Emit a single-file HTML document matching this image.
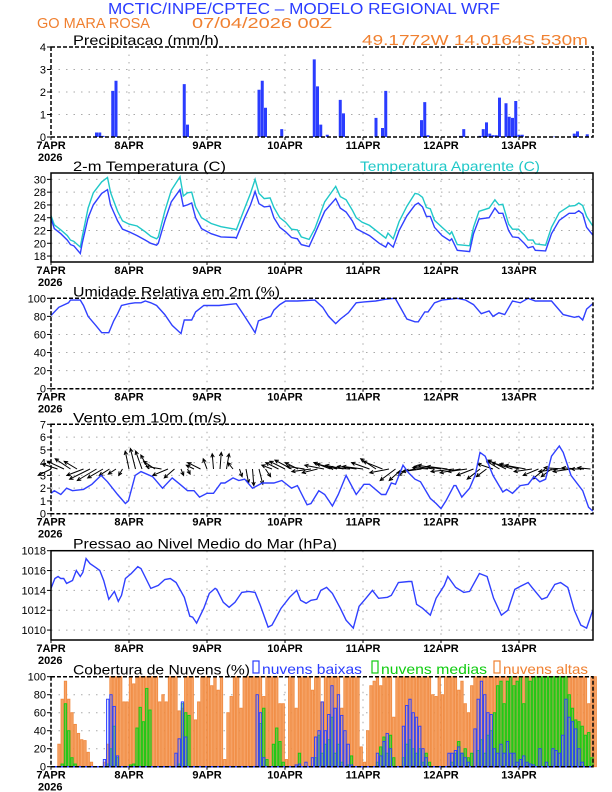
<!DOCTYPE html>
<html><head><meta charset="utf-8"><style>
html,body{margin:0;padding:0;background:#fff;}
svg{display:block;font-family:"Liberation Sans",sans-serif;}
</style></head><body>
<svg id="chart" width="612" height="792" viewBox="0 0 612 792" xmlns="http://www.w3.org/2000/svg">
<text x="108" y="14" font-size="16" fill="#2a3cff" textLength="392" lengthAdjust="spacingAndGlyphs">MCTIC/INPE/CPTEC – MODELO REGIONAL WRF</text>
<text x="37" y="28" font-size="15" fill="#f08030" textLength="113" lengthAdjust="spacingAndGlyphs">GO MARA ROSA</text>
<text x="192" y="28" font-size="15" fill="#f08030" textLength="140" lengthAdjust="spacingAndGlyphs">07/04/2026 00Z</text>
<text x="362" y="45" font-size="15" fill="#f08030" textLength="226" lengthAdjust="spacingAndGlyphs">49.1772W 14.0164S 530m</text>
<g id="g"></g>
</svg>
<script>
// ---- data (hourly, hour 0 = 7APR 00Z) ----
var dayLabels = ["7APR","8APR","9APR","10APR","11APR","12APR","13APR"];
var precipHours = [14,15,16,19,20,41,42,64,65,66,71,81,82,83,85,89,90,100,102,103,114,115,116,126,127,132,133,134,135,136,137,138,140,141,142,143,144,145,150,155,161,162,165];
var precipVals  = [0.2,0.2,0.05,2.05,2.5,2.35,0.55,2.1,2.5,1.3,0.35,3.45,2.25,0.55,0.1,1.65,1.05,0.85,0.4,2.05,0.75,1.55,0.08,0.05,0.35,0.05,0.35,0.65,0.15,0.08,0.08,1.75,1.5,0.9,0.85,1.6,0.1,0.1,0.02,0.02,0.15,0.25,0.12];

var tempHours = [0,1,3,5,6,7,9,9.6,11.4,13,15.6,17.4,18.3,19,20.5,22,24,26.5,29,30.7,32.5,33,35,37,39.7,40.7,42,43.3,44.5,46.3,49.3,52.3,56.6,57,59.6,61.4,62.8,64,65.6,67.4,68.6,70.4,72.2,74,75.8,77,79.4,81.2,84.2,87.6,89,90.8,92.7,93.9,95.7,98,101,103,103.7,105.3,107.1,109.5,112,113,114.3,115.5,116.7,118,120.3,122.7,123.3,125,128.8,130,131.7,134.8,136.6,137.8,139,140.8,142,143.8,145.6,146.8,148.3,149,152.2,154,156.4,159.4,161.2,162.4,163.6,164.8,166.7];
var tempVals  = [23.9,22.3,21.5,20.5,19.8,19.6,18.4,20.0,24.0,26.0,27.8,28.4,26.0,25.2,23.5,22.2,21.8,21.2,20.5,20.0,19.7,20.0,23.5,26.5,28.4,25.8,26.0,26.3,24.0,22.3,21.5,21.0,20.9,20.8,24.0,26.0,28.1,26.2,25.7,25.8,24.0,22.5,21.8,20.9,20.7,19.8,19.5,21.5,25.0,27.0,25.5,24.9,23.5,22.3,21.8,21.2,20.0,19.4,20.1,19.4,22.0,24.3,26.0,26.3,25.7,24.2,24.2,22.5,21.2,20.4,20.7,18.9,18.7,21.5,23.8,24.0,25.5,24.7,24.7,22.0,21.0,20.9,20.0,19.3,19.5,18.9,18.8,21.5,23.6,24.7,24.7,25.1,24.6,22.5,21.3];
var apparentVals = [24.3,22.9,22.1,21.2,20.5,20.3,19.4,21.0,25.5,27.9,29.6,30.3,28.0,27.0,25.0,23.5,23.0,22.7,21.8,21.1,20.7,21.0,25.0,28.3,30.4,27.4,27.9,28.0,25.7,24.0,23.1,22.6,22.2,22.1,25.5,27.8,30.0,27.8,27.0,27.1,25.6,24.0,23.3,22.2,22.1,21.0,20.6,22.3,26.5,28.9,27.3,26.8,25.2,24.0,23.3,22.8,21.6,20.8,21.6,20.7,23.4,25.8,27.8,27.7,27.2,25.6,25.4,23.6,22.5,21.4,21.8,19.8,19.6,22.5,25.0,25.5,26.8,26.0,26.1,23.0,22.2,22.2,21.3,20.5,20.5,19.9,19.7,22.5,24.8,25.8,25.9,26.3,25.9,24.2,22.7];

var rhHours = [0,2.4,5.4,6,9,10,11.4,13.8,15.6,17.8,19.3,20.5,21.7,24,25.8,27.7,29,30.7,32.5,35,37.3,40,41,43.3,44.5,47,51.7,57,59.6,61.4,62.8,63.8,66,67.6,68.6,70.4,72.2,75.8,81.2,83.6,85.4,87.6,89,91.5,93.9,96.3,99.9,103,105.9,107,109.5,112,113,115,116,118,120.3,125,127.6,130,132.4,134.8,136,137.8,139.6,142,144.4,146.8,149,154,157.6,161,162.4,163.6,164.8,166.7];
var rhVals  = [81,90,95,98,98,92,80,70,62,62,75,83,92,94,95,95,97,95,92,82,70,61,76,76,85,92,92,94,80,70,62,75,78,80,87,93,97,97,98,90,80,72,77,84,95,96,97,99,100,93,77,74,74,85,85,95,98,100,98,93,83,86,80,84,82,97,95,100,97,97,82,79,80,76,88,94];

var windHours = [0,1,3,4.8,6.6,10,12.6,15.4,17.4,20.5,22.9,23.8,25.9,27.7,31.3,34.3,37.3,39.7,42,44,45.7,48,50,52.3,53.5,56,57.8,59.6,62,65,68.6,71,74,75.8,78.8,80,82.4,84.2,86.6,88.4,90.8,93.9,96.3,98,101.7,103,104.7,106,108.3,110,112,113.7,116.7,118.5,120,121.5,124,124.6,126.4,128.8,130.5,132,133.6,136,139,140.2,142,144.4,146.8,148.6,150.4,152.2,154,156.4,157.6,160,163.6,165.4,166.7];
var windVals  = [1.6,1.8,1.5,2.0,1.8,1.9,2.3,3.0,2.5,1.5,0.8,1.0,3.0,3.3,2.9,2.0,2.8,2.3,1.8,1.8,1.3,1.6,1.6,2.4,2.4,2.8,2.6,2.7,2.0,2.4,2.4,2.6,2.0,2.2,0.7,0.8,1.8,1.5,0.6,1.5,3.0,1.5,2.3,2.3,1.5,1.5,2.4,2.3,3.8,3.2,2.7,2.5,1.2,0.8,0.4,1.0,2.2,2.2,1.3,2.0,3.0,4.8,4.5,3.0,1.7,1.9,1.6,2.2,2.3,2.9,2.5,2.7,4.5,5.3,4.8,3.0,1.8,0.5,0.2];
var arrowHours = [0,2,4,6,8,10,12,14,16,18,20,22,24,26,28,30,32,34,36,38,40,42,44,46,48,50,52,54,56,58,60,62,64,66,68,70,72,74,76,78,80,82,84,86,88,90,92,94,96,98,100,102,104,106,108,110,112,114,116,118,120,122,124,126,128,130,132,134,136,138,140,142,144,146,148,150,152,154,156,158,160,162,164,166];
var arrowU = [-1,-1.2,-1.3,-1.2,-1.0,-1.3, -1.6,-1.5,-1.2,-0.8,-0.6,-0.3, -0.3,-0.4,-0.5,-0.6,-0.9,-1.2, -1.2,-0.8,0.2,0.2,-0.6,-1.0, -0.3,-0.1,0.1,0.2,-0.4,0.2, 0.2,0.1,0.3,0.4,-0.8,-1.0, -1.2,-1.3,-1.0,-1.4,-1.5,-1.2, -1.5,-1.3,-1.6,-1.4,-1.6,-1.5, -1.6,-1.4,-1.2,-1.5,-1.5,-1.2, -1.0,-0.8,-1.4,-1.5,-1.2,-1.6, -1.8,-1.6,-1.8,-1.6,-1.5,-1.3, -1.0,-0.8,-1.2,-1.0,-1.4,-1.6, -1.5,-1.6,-1.4,-1.2,-1.0,-0.8, -1.5,-1.6,-1.4,-1.2,-1.0,-1.0];
var arrowV = [-0.5,0.4,0.6,0.8,0.6,-0.5, -0.8,-0.9,-0.7,-0.5,-0.4,-0.5, 1.4,1.6,1.4,1.1,0.6,0.2, -0.5,-0.7,-0.5,-0.4,0.3,0.5, 0.8,1.2,1.3,1.2,0.5,-0.6, -1.1,-1.3,-1.2,-0.6,0.3,0.5, 0.6,0.7,0.5,0.2,-0.2,-0.3, 0.3,0.5,0.4,0.3,0.1,0.2, 0.2,0.5,0.8,0.6,-0.3,-0.9, -0.9,-0.5,-0.3,-0.2,0.1,0.2, 0.3,0.2,-0.2,-0.3,-0.2,-0.5, -0.8,-0.6,0.4,0.6,0.7,0.5, 0.4,0.3,-0.2,-0.5,-0.8,-0.6, -0.2,0.1,-0.2,0.1,0.0,0.1];

var presHours = [0,1.2,2.2,3,3.9,4.8,6.6,7.8,9,9.8,10.8,12,13.8,15,16.2,17.8,19.5,20.7,21.7,22.9,24.7,26.7,27.7,29.5,30.7,33,35,36.7,38.5,41,42.7,43.6,44.8,47,48.7,50.5,51,53,54.8,56.6,58.7,60.8,62.8,64.4,66.8,68,70.8,73.4,75.6,76.8,78.5,80,81.8,83,84.8,86.6,89,90.8,93,94.8,96.9,98.9,100.8,103.5,104.7,106.9,110.1,111,112.5,114.3,116.7,118.5,121,122.1,124.5,127,128.8,131.8,134.2,136.2,138.6,140.6,142.7,144.4,146.8,148,151,152.6,155,156.8,159,161,163,164.8,166.7];
var presVals  = [1014.2,1015.2,1015.4,1015.2,1015.2,1014.7,1015.0,1016.0,1015.4,1015.8,1017.2,1016.7,1016.3,1016.0,1015.0,1013.1,1013.9,1012.9,1013.5,1015.2,1015.7,1016.4,1016.2,1015.0,1014.2,1014.5,1015.1,1015.2,1014.8,1013.3,1011.4,1011.3,1010.7,1012.2,1013.7,1014.2,1014.1,1012.8,1012.3,1012.8,1013.8,1013.9,1013.8,1012.5,1010.3,1010.5,1012.2,1013.3,1014.0,1013.0,1012.7,1013.0,1013.1,1014.0,1014.3,1013.7,1012.2,1011.0,1010.2,1012.4,1013.2,1014.0,1013.2,1013.3,1013.5,1014.8,1014.9,1014.9,1012.6,1012.2,1011.5,1013.2,1014.5,1015.4,1014.3,1013.8,1013.9,1015.7,1015.4,1013.2,1011.5,1012.0,1014.1,1014.4,1014.8,1014.3,1013.1,1013.3,1014.6,1014.8,1014.3,1012.0,1010.5,1010.2,1012.0];

var cloudHigh = [0,0,25,75,95,75,60,47,37,30,29,16,5,0,0,0,5,25,100,100,100,100,72,72,
100,92,100,100,100,100,100,100,100,72,80,72,100,100,100,62,65,100,100,100,52,72,100,100,
100,90,100,85,100,8,60,78,100,100,65,100,100,100,100,100,100,78,100,100,100,100,70,70,
8,100,100,65,100,100,100,100,85,100,100,72,100,100,100,100,100,65,100,100,100,100,100,22,
5,40,90,95,100,90,100,100,100,55,100,100,100,100,100,100,100,100,100,100,100,80,78,100,
80,100,100,100,100,85,95,70,60,90,100,100,100,100,100,100,100,100,100,100,100,100,100,100,
100,100,100,100,100,100,100,100,100,100,100,100,100,100,100,100,100,100,100,100,100,70,100,100];
var cloudMid = [0,0,0,3,70,40,10,3,0,0,0,0,0,0,0,0,0,3,20,45,10,0,0,0,
2,3,43,66,50,87,63,0,0,0,0,0,0,0,0,3,70,60,57,0,0,0,0,0,
0,0,0,0,0,0,0,0,0,0,0,0,0,0,0,0,48,65,8,0,25,43,28,5,
0,0,0,0,15,0,0,0,0,10,35,15,25,30,55,15,25,5,0,2,12,0,0,0,
0,0,0,0,5,22,33,15,35,10,0,0,10,25,30,20,15,20,5,15,5,0,0,0,
0,0,0,5,15,28,15,20,10,15,0,18,30,15,35,40,60,90,95,70,95,100,90,95,
100,70,100,95,100,100,100,100,100,100,100,100,100,100,100,80,65,52,50,45,35,38,10,0];
var cloudLow = [0,0,0,0,0,0,0,0,0,0, 0,0,0,0,0,0,8,75,80,67, 12,0,0,0,0,0,0,0,0,0, 0,0,0,0,0,0,0,0,15,31, 72,33,0,0,0,0,0,0,0,0, 0,0,0,0,0,0,0,0,0,0, 0,0,0,80,60,10,0,0,0,0, 0,0,0,0,0,2,3,0,5,0, 10,33,40,72,40,58,90,65,80,57, 40,25,2,0,0,0,0,0,0,0, 15,12,28,37,20,0,0,0,45,68, 75,60,55,45,20,10,0,0,0,0, 0,0,15,15,18,22,15,10,5,0, 42,75,95,80,60,58,20,15,25,15, 28,15,15,5,8,12,5,3,2,0, 20,0,5,0,20,18,15,35,75,55, 50,42,20,5,0,0,0,0];

var precipTicks = [0,1,2,3,4];
var tempTicks = [18,20,22,24,26,28,30];
var rhTicks = [0,20,40,60,80,100];
var windTicks = [0,1,2,3,4,5,6,7];
var presTicks = [1010,1012,1014,1016,1018];
var cloudTicks = [0,20,40,60,80,100];

// ---- layout ----
var X0 = 51, X1 = 593, PXH = 3.25;
function xs(h){ return X0 + h*PXH; }
function yScale(top,bot,min,max){ return function(v){ return bot - (v-min)/(max-min)*(bot-top); }; }
var NS = "http://www.w3.org/2000/svg";
var G = document.getElementById('g');
function el(tag, attrs, parent){ var e = document.createElementNS(NS, tag); for (var k in attrs) e.setAttribute(k, attrs[k]); (parent||G).appendChild(e); return e; }
function txt(s, x, y, size, fill, anchor, parent){ var t = el('text', {x:x, y:y, 'font-size':size, fill:fill, 'text-anchor':anchor||'start'}, parent); t.textContent = s; return t; }

function panel(name, top, bot, min, max, ticks, dashed, title, titleW){
  var g = el('g', {});
  
  
  var y = yScale(top, bot, min, max);
  var grid = el('g', {stroke:'#aaa', 'stroke-width':1, 'stroke-dasharray':'1.5,6'}, g);
  
  
  ticks.forEach(function(t){ var yy = y(t); if (yy > top+1 && yy < bot-1) el('line', {x1:X0, x2:X1, y1:yy, y2:yy}, grid); });
  for (var d=1; d<7; d++) el('line', {x1:xs(d*24), x2:xs(d*24), y1:top, y2:bot}, grid);
  var yl = el('g', {}, g);
  
  
  ticks.forEach(function(t){ var yy = y(t); el('line', {x1:X0-4, x2:X0, y1:yy, y2:yy, stroke:'#000'}, yl); txt(String(t), X0-5, yy+4, 11, '#000', 'end', yl); });
  var xl = el('g', {}, g);
  
  
  dayLabels.forEach(function(s, i){ el('line', {x1:xs(i*24), x2:xs(i*24), y1:bot, y2:bot+3, stroke:'#000'}, xl); var t = txt(s, xs(i*24), bot+12, 11, '#000', 'middle', xl); t.setAttribute('font-weight','bold'); });
  var yr = txt('2026', 38, bot+24, 11, '#000', 'start', xl); yr.setAttribute('font-weight','bold');
  var tt = txt(title, 73, top-2, 14, '#000', 'start', g);
  tt.setAttribute('textLength', titleW); tt.setAttribute('lengthAdjust','spacingAndGlyphs');
  
  
  return {g:g, y:y, frame:function(){ var f = el('rect', {x:X0, y:top, width:X1-X0, height:bot-top, fill:'none', stroke:'#000', 'stroke-width':1.5, 'stroke-dasharray': dashed ? '4,2' : 'none'}, g);   }};
}
function line(p, hours, vals, color, name){
  var d = hours.map(function(h,i){ return (i?'L':'M') + xs(h).toFixed(1) + ',' + p.y(vals[i]).toFixed(1); }).join('');
  var l = el('path', {d:d, fill:'none', stroke:color, 'stroke-width':1.4}, p.g);
  
  
}

// Precip
var P1 = panel('precipitation', 47, 137, 0, 4, precipTicks, true, 'Precipitacao (mm/h)', 146);
precipHours.forEach(function(h, i){
  var v = precipVals[i], y0 = P1.y(0), y1 = P1.y(v);
  var b = el('rect', {x:xs(h)-1.5, y:y1, width:3, height:Math.max(0.6, y0-y1), fill:'#2a3cff'}, P1.g);
  
  
});
P1.frame();

// Temperature
var P2 = panel('temperature', 173, 262, 17.07, 31, tempTicks, false, '2-m Temperatura (C)', 153);
var at = txt('Temperatura Aparente (C)', 360, 171, 14, '#20c8c8', 'start', P2.g);
at.setAttribute('textLength', 180); at.setAttribute('lengthAdjust','spacingAndGlyphs');


line(P2, tempHours, apparentVals, '#20c8c8', 'apparent-temp-line');
line(P2, tempHours, tempVals, '#3040ff', 'temperature-line');
P2.frame();

// Humidity
var P3 = panel('humidity', 298.3, 388.7, 0, 100, rhTicks, true, 'Umidade Relativa em 2m (%)', 207);
line(P3, rhHours, rhVals, '#3040ff', 'humidity-line');
P3.frame();

// Wind
var P4 = panel('wind', 424.3, 513.7, 0, 7, windTicks, true, 'Vento em 10m (m/s)', 154);
var k = (513.7-424.3)/7;
arrowHours.forEach(function(h, i){
  var x0 = xs(h), y0 = P4.y(3.5), x1 = x0 + arrowU[i]*k, y1 = y0 - arrowV[i]*k;
  var ang = Math.atan2(y1-y0, x1-x0), hl = 4;
  var d = 'M'+x0.toFixed(1)+','+y0.toFixed(1)+'L'+x1.toFixed(1)+','+y1.toFixed(1)+
    'M'+(x1-hl*Math.cos(ang-0.45)).toFixed(1)+','+(y1-hl*Math.sin(ang-0.45)).toFixed(1)+'L'+x1.toFixed(1)+','+y1.toFixed(1)+'L'+(x1-hl*Math.cos(ang+0.45)).toFixed(1)+','+(y1-hl*Math.sin(ang+0.45)).toFixed(1);
  var a = el('path', {d:d, fill:'none', stroke:'#000', 'stroke-width':1}, P4.g);
  
  
});
line(P4, windHours, windVals, '#3040ff', 'wind-speed-line');
P4.frame();

// Pressure
var P5 = panel('pressure', 550.7, 640, 1009, 1018, presTicks, false, 'Pressao ao Nivel Medio do Mar (hPa)', 264);
line(P5, presHours, presVals, '#3040ff', 'pressure-line');
P5.frame();

// Clouds
var P6 = panel('clouds', 676.7, 766.7, 0, 100, cloudTicks, true, 'Cobertura de Nuvens (%)', 177);
function legend(x, label, color, w, nm){
  var r = el('rect', {x:x, y:661, width:6, height:12, fill:'none', stroke:color, 'stroke-width':1.2}, P6.g);
  
  
  var t = txt(label, x+9, 674, 14, color, 'start', P6.g);
  t.setAttribute('textLength', w); t.setAttribute('lengthAdjust','spacingAndGlyphs');
  
  
}
legend(253, 'nuvens baixas', '#2a3cff', 100, 'low-clouds');
legend(372, 'nuvens medias', '#10cc10', 106, 'mid-clouds');
legend(494, 'nuvens altas', '#f08030', 85, 'high-clouds');
function bars(vals, fill, stroke, name){
  vals.forEach(function(v, h){
    if (v <= 0) return;
    var y0 = P6.y(0), y1 = P6.y(v);
    var b = el('rect', {x:xs(h)+0.3, y:y1, width:PXH-0.9, height:y0-y1, fill:fill, stroke:stroke, 'stroke-width':0.9}, P6.g);
    
    
  });
}
bars(cloudHigh, '#f6a468', '#f08a40', 'high-cloud-bar');
bars(cloudMid, 'rgba(40,200,40,0.55)', '#10cc10', 'mid-cloud-bar');
bars(cloudLow, 'rgba(120,140,255,0.25)', '#2a3cff', 'low-cloud-bar');
el('line', {x1:X0, x2:X1, y1:766.7, y2:766.7, stroke:'#2a3cff', 'stroke-width':1.5}, P6.g);
P6.frame();
</script>
</body></html>
